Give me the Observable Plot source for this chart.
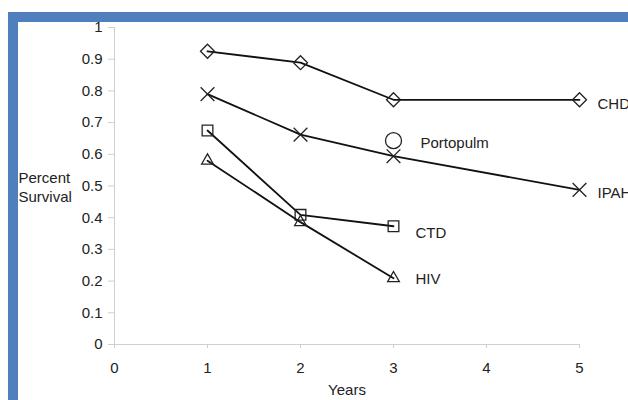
<!DOCTYPE html>
<html>
<head>
<meta charset="utf-8">
<script src="https://cdn.jsdelivr.net/npm/d3@7"></script>
<script src="https://cdn.jsdelivr.net/npm/@observablehq/plot@0.6"></script>
<style>
  html, body { margin: 0; padding: 0; background: #fff; overflow: hidden; }
  #wrap { position: relative; width: 628px; height: 400px; overflow: hidden; }
  #frame {
    position: absolute; left: 8px; top: 12px; width: 620px; height: 388px;
    box-sizing: border-box;
    border-top: 10px solid #4f7fbd; border-left: 10px solid #4f7fbd;
  }
  #chart { position: absolute; left: 0; top: 0; }
</style>
</head>
<body>
<div id="wrap"><div id="frame"></div><div id="chart"></div></div>
<script>
// Survival by year for each pulmonary hypertension group
const yearsLong = [1, 2, 3, 5];
const yearsShort = [1, 2, 3];
const yearsPorto = [3];

const chd = [0.925, 0.889, 0.772, 0.772];
const ipah = [0.79, 0.662, 0.594, 0.488];
const ctd = [0.675, 0.409, 0.373];
const hiv = [0.58, 0.386, 0.209];
const portopulm = [0.643];

const seriesNames = ["CHD", "IPAH", "CTD", "HIV", "Portopulm"];
const xTicks = [0, 1, 2, 3, 4, 5];
const yTicks = [0, 0.1, 0.2, 0.3, 0.4, 0.5, 0.6, 0.7, 0.8, 0.9, 1];

const rows = (years, values) => years.map((year, i) => ({year, value: values[i]}));

const groups = [
  {name: seriesNames[0], data: rows(yearsLong, chd), symbol: "diamond2", r: 6.3, dx: 18, dy: 4},
  {name: seriesNames[1], data: rows(yearsLong, ipah), symbol: "times", r: 6.3, dx: 18, dy: 3},
  {name: seriesNames[2], data: rows(yearsShort, ctd), symbol: "square2", r: 6.8, dx: 22, dy: 7},
  {name: seriesNames[3], data: rows(yearsShort, hiv), symbol: "triangle2", r: 5.6, dx: 22, dy: 1},
  {name: seriesNames[4], data: rows(yearsPorto, portopulm), symbol: "circle", r: 8, dx: 27, dy: 3}
];

const ink = "#111";
const marks = [
  Plot.ruleY([0], {stroke: "#cfcfcf"}),
  Plot.ruleX([0], {stroke: "#cfcfcf"}),
  Plot.axisY({ticks: yTicks, tickFormat: d => String(d), tickSize: 6, tickPadding: 6,
    stroke: "#cfcfcf", fill: "#222", fontSize: 15, label: null}),
  Plot.axisX({ticks: xTicks, tickFormat: d => String(d), tickSize: 4, tickPadding: 14,
    stroke: "#cfcfcf", fill: "#222", fontSize: 15, label: null}),
  Plot.text(["Percent\nSurvival"], {frameAnchor: "left", dx: -96, textAnchor: "start",
    lineHeight: 1.27, fill: "#222", fontSize: 15}),
  Plot.text(["Years"], {frameAnchor: "bottom", dy: 50, fill: "#222", fontSize: 15})
];

for (const g of groups) {
  if (g.data.length > 1) {
    marks.push(Plot.line(g.data, {x: "year", y: "value", stroke: ink, strokeWidth: 1.8}));
  }
  marks.push(Plot.dot(g.data, {x: "year", y: "value", symbol: () => g.symbol, r: g.r,
    fill: "none", stroke: "#222", strokeWidth: 1.3}));
  marks.push(Plot.text(g.data.slice(-1), {x: "year", y: "value", text: () => g.name,
    textAnchor: "start", dx: g.dx, dy: g.dy, fill: "#222", fontSize: 15}));
}

const chart = Plot.plot({
  width: 628,
  height: 400,
  marginTop: 27,
  marginBottom: 56,
  marginLeft: 114,
  marginRight: 49,
  x: {domain: [0, 5], axis: null},
  y: {domain: [0, 1], axis: null},
  symbol: {type: "identity"},
  style: {background: "transparent", fontFamily: "'Liberation Sans', Arial, sans-serif", overflow: "hidden"},
  marks
});
document.getElementById("chart").appendChild(chart);
</script>
</body>
</html>
